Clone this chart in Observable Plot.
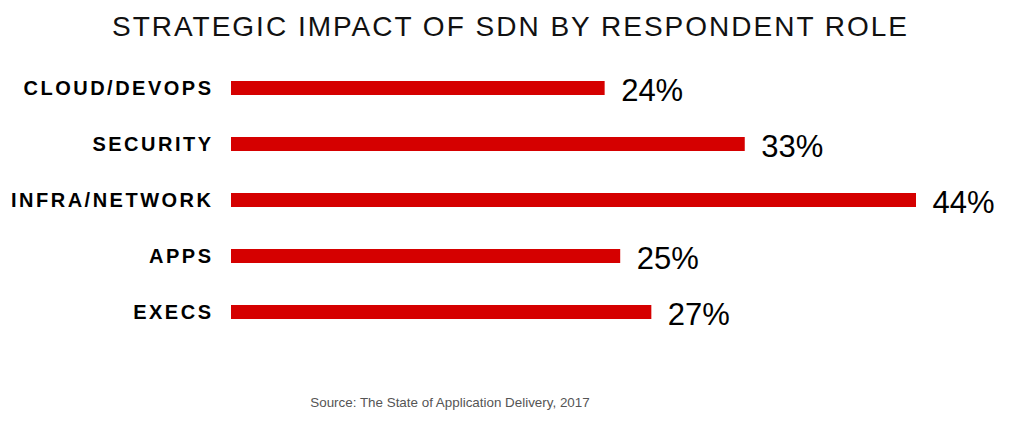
<!DOCTYPE html>
<html>
<head>
<meta charset="utf-8">
<script src="https://cdn.jsdelivr.net/npm/d3@7"></script>
<script src="https://cdn.jsdelivr.net/npm/@observablehq/plot@0.6"></script>
<style>
  html, body { margin: 0; padding: 0; background: #fff; }
  #wrap { position: relative; width: 1024px; height: 424px; overflow: hidden; font-family: "Liberation Sans", Arial, sans-serif; }
  #title { position: absolute; left: 0; top: 13px; width: 1021px; text-align: center; font-size: 28px; line-height: 28px; letter-spacing: 2px; color: #111; white-space: nowrap; z-index: 2; }
  #caption { position: absolute; left: 0; top: 396px; width: 900px; text-align: center; font-size: 13.4px; line-height: 13.4px; color: #555; white-space: nowrap; z-index: 2; }
  #chart { position: absolute; left: 0; top: 0; }
</style>
</head>
<body>
<div id="wrap">
  <div id="title">STRATEGIC IMPACT OF SDN BY RESPONDENT ROLE</div>
  <div id="chart"></div>
  <div id="caption">Source: The State of Application Delivery, 2017</div>
</div>
<script>
const roles = ["CLOUD/DEVOPS", "SECURITY", "INFRA/NETWORK", "APPS", "EXECS"];
const values = [24, 33, 44, 25, 27];

const data = roles.map((r, i) => ({role: r, value: values[i]}));

const chart = Plot.plot({
  width: 1024,
  height: 424,
  marginLeft: 231,
  marginRight: 108,
  marginTop: 39,
  marginBottom: 63,
  style: {fontFamily: "'Liberation Sans', Arial, sans-serif", background: "transparent"},
  x: {domain: [0, 44], axis: null},
  y: {domain: roles, padding: 0.75, label: null},
  marks: [
    Plot.barX(data, {x: "value", y: "role", fill: "#d50000"}),
    Plot.axisY({tickSize: 0, tickPadding: 18, fontSize: 20, fontWeight: "bold", fill: "#000", label: null}),
    Plot.text(data, {x: "value", y: "role", text: d => `${d.value}%`, textAnchor: "start", dx: 16, dy: 3, fontSize: 31, fill: "#000"})
  ]
});
d3.select(chart).selectAll('g[aria-label="y-axis tick label"] text').attr("letter-spacing", "2.5px");
document.getElementById("chart").appendChild(chart);
</script>
</body>
</html>
